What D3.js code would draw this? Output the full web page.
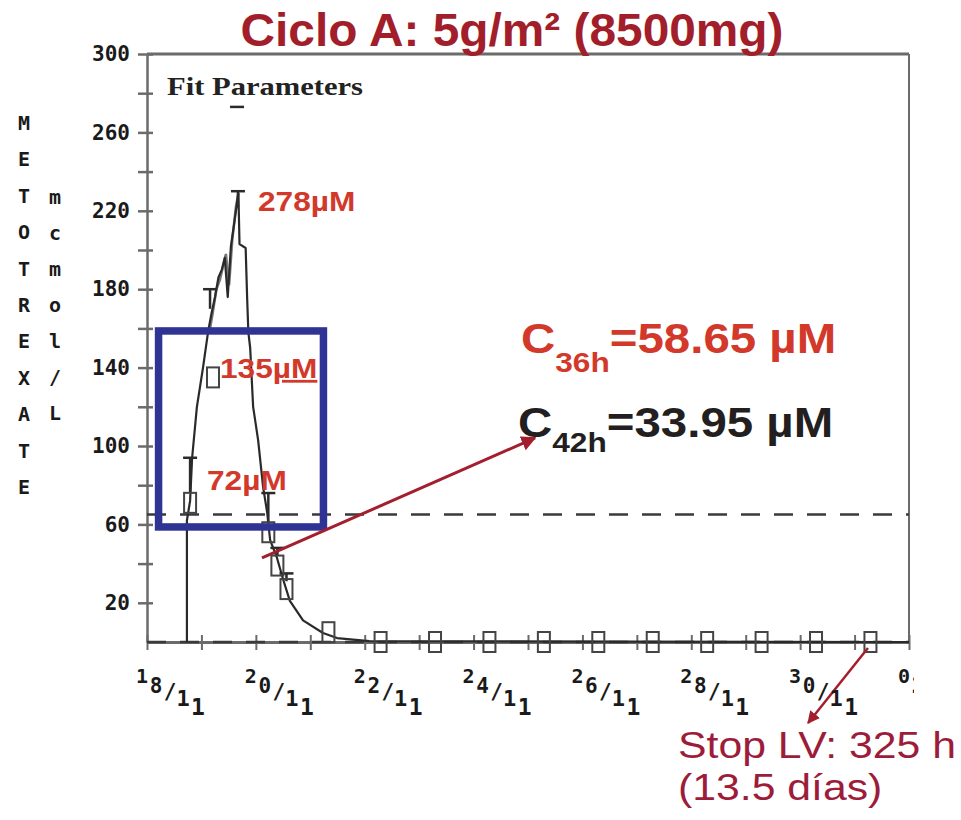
<!DOCTYPE html>
<html>
<head>
<meta charset="utf-8">
<script src="https://cdn.jsdelivr.net/npm/d3@7"></script>
<style>
body { margin: 0; background: #fff; }
svg { display: block; }
</style>
</head>
<body>
<div id="chart"></div>
<script>
// time = hours since 18/11 00:00, level = methotrexate in mcmol/L
const curveHours  = [17.6, 17.6, 19, 19.9, 22, 24.7, 26.9, 28.5, 30, 31.5, 33, 34.3, 35.6, 37, 38.5, 40.3, 40.8, 43.5, 44.2, 44.7, 45.5, 46.8, 49, 51.2, 53, 54.3, 57.3, 60, 63, 68.8, 77.6, 83.8, 98, 336]
const curveLevels = [0, 62, 72, 94, 120, 140, 158, 168, 176, 186, 190, 196, 176, 202, 214, 229, 203, 201, 174, 158, 150, 120, 103, 79, 66, 52, 43, 32, 21, 11, 4.6, 2, 0.4, 0]

// second (grey) trace on the rising limb
const traceHours  = [27.5, 29, 30.6, 32.2, 33.6, 34.8, 36.2, 37.6, 39.2, 40.3]
const traceLevels = [158, 168, 180, 185, 192, 198, 182, 205, 222, 229]

// measured samples (boxes)
const sampleHours  = [19, 29.1, 53.5, 57.5, 61.5, 80, 103, 127, 151, 175, 199, 223, 247, 271, 295, 319]
const sampleLevels = [71, 135, 56, 39, 27, 5, 0, 0, 0, 0, 0, 0, 0, 0, 0, 0]

// error bars
const errHours = [19, 27.8, 40.1, 53.5, 57.5, 61.5]
const errLow   = [76, 170, 222, 61, 44, 31]
const errHigh  = [94, 180, 230, 76, 48, 35]
const capHours  = [39.7]
const capLevels = [273]

const refLevels = [65, 0]

const dayTicks = d3.range(0, 337, 24)
const dayLabels = ['18/11', '20/11', '22/11', '24/11', '26/11', '28/11', '30/11', '02/12']
const yTicks = d3.range(20, 301, 20)
const yLabels = [20, 60, 100, 140, 180, 220, 260, 300]

const titleText = 'Ciclo A: 5g/m² (8500mg)'
const yTitle1 = 'METOTREXATE'
const yTitle2 = 'mcmol/L'
const fitText = 'Fit Parameters'

const margin = { top: 54, left: 147 }
const width = 762
const height = 588
const axisColor = '#6b6b6b'
const inkColor = '#2a2a2a'
const red = '#d2392b'
const darkRed = '#a41f2e'
const navy = '#2f3393'
const sx = 1.13 // slide text is a bit wide

const svg = d3.select('#chart')
    .append('svg')
    .attr('width', 961)
    .attr('height', 820)

svg.append('defs').append('clipPath').attr('id', 'lblclip')
    .append('rect').attr('x', 0).attr('y', 0).attr('width', 914).attr('height', 820)

const marker = svg.select('defs').append('marker')
    .attr('id', 'arrow')
    .attr('viewBox', '0 0 10 10')
    .attr('refX', 9).attr('refY', 5)
    .attr('markerWidth', 5).attr('markerHeight', 5)
    .attr('orient', 'auto')
marker.append('path').attr('d', 'M0,0L10,5L0,10z').attr('fill', darkRed)

const g = svg.append('g').attr('transform', `translate(${margin.left},${margin.top})`)

const x = d3.scaleLinear().domain([0, 336]).range([0, width])
const y = d3.scaleLinear().domain([0, 300]).range([height, 0])

//frame (top + right)
g.append('line').attr('x1', 0).attr('x2', width).attr('y1', 0).attr('y2', 0)
    .attr('stroke', axisColor).attr('stroke-width', 3)
g.append('line').attr('x1', width).attr('x2', width).attr('y1', 0).attr('y2', height)
    .attr('stroke', axisColor).attr('stroke-width', 2)

//y axis
const yAxis = g.append('g')
    .call(d3.axisLeft(y).tickValues(yTicks).tickSize(9).tickSizeOuter(0).tickPadding(8)
        .tickFormat(d => yLabels.includes(d) ? d : ''))
yAxis.select('.domain').attr('stroke', axisColor).attr('stroke-width', 2.5)
yAxis.selectAll('.tick line').attr('x1', 6).attr('stroke', axisColor).attr('stroke-width', 2.5)
yAxis.selectAll('.tick text')
    .attr('font-family', 'DejaVu Sans Mono').attr('font-weight', 'bold')
    .attr('font-size', 21).attr('fill', '#1a1a1a')

//x axis
const xAxis = g.append('g')
    .attr('transform', `translate(0,${height})`)
    .call(d3.axisBottom(x).tickValues(dayTicks).tickSize(8).tickSizeOuter(0).tickFormat(''))
xAxis.select('.domain').attr('stroke', axisColor).attr('stroke-width', 3)
xAxis.selectAll('.tick line').attr('y1', -7).attr('stroke', axisColor).attr('stroke-width', 2)

//staircase date labels (picture is cropped just right of the last tick)
const charDx = [-5, 9, 23, 36, 51]
const charDy = [34, 44, 50, 56, 65]
const charSize = [20, 21, 21, 22, 23]
const cropX = 914 - margin.left
const lbl = svg.append('g').attr('clip-path', 'url(#lblclip)')
    .append('g').attr('transform', `translate(${margin.left},${margin.top})`)
dayLabels.forEach((s, i) => {
    const t = lbl.append('text')
        .attr('font-family', 'DejaVu Sans Mono').attr('font-weight', 'bold')
        .attr('fill', '#1a1a1a').attr('text-anchor', 'middle')
    s.split('').forEach((c, k) => {
        const cx = x(dayTicks[i * 2]) + charDx[k]
        if (cx - 7 > cropX) return
        t.append('tspan')
            .attr('x', cx)
            .attr('y', height + charDy[k])
            .attr('dominant-baseline', 'central')
            .attr('font-size', charSize[k])
            .text(c)
    })
})

//reference lines
g.selectAll('.ref').data(refLevels).enter().append('line')
    .attr('x1', 0).attr('x2', width)
    .attr('y1', d => y(d)).attr('y2', d => y(d))
    .attr('stroke', '#3a3a3a').attr('stroke-width', 2.5)
    .attr('stroke-dasharray', '19,14')

//grey trace
const line = d3.line().x(d => x(d[0])).y(d => y(d[1]))
g.append('path')
    .datum(d3.zip(traceHours, traceLevels))
    .attr('fill', 'none').attr('stroke', '#777').attr('stroke-width', 2.5)
    .attr('d', line)

//main curve
g.append('path')
    .datum(d3.zip(curveHours, curveLevels))
    .attr('fill', 'none').attr('stroke', inkColor).attr('stroke-width', 2.2)
    .attr('stroke-linejoin', 'round')
    .attr('d', line)

//error bars
const errs = d3.zip(errHours, errLow, errHigh)
g.selectAll('.err').data(errs).enter().append('line')
    .attr('x1', d => x(d[0])).attr('x2', d => x(d[0]))
    .attr('y1', d => y(d[1])).attr('y2', d => y(d[2]))
    .attr('stroke', inkColor).attr('stroke-width', 2.5)
g.selectAll('.cap').data(errs.map(d => [d[0], d[2]]).concat(d3.zip(capHours, capLevels)))
    .enter().append('line')
    .attr('x1', d => x(d[0]) - 7).attr('x2', d => x(d[0]) + 7)
    .attr('y1', d => y(d[1])).attr('y2', d => y(d[1]))
    .attr('stroke', inkColor).attr('stroke-width', 2.5)

//samples
g.selectAll('.box').data(d3.zip(sampleHours, sampleLevels)).enter().append('rect')
    .attr('x', d => x(d[0]) - 6).attr('y', d => y(d[1]) - 10)
    .attr('width', 12).attr('height', 20)
    .attr('fill', 'none').attr('stroke', '#444').attr('stroke-width', 2)

//highlight box
g.append('rect')
    .attr('x', x(5.1)).attr('y', y(158.7))
    .attr('width', x(77.8) - x(5.1)).attr('height', y(58.7) - y(158.7))
    .attr('fill', 'none').attr('stroke', navy).attr('stroke-width', 7.5)

//arrows
g.append('line')
    .attr('x1', x(50.7)).attr('y1', y(42.9)).attr('x2', x(171.1)).attr('y2', y(104.1))
    .attr('stroke', darkRed).attr('stroke-width', 3)
    .attr('marker-end', 'url(#arrow)')
g.append('line')
    .attr('x1', x(317.9)).attr('y1', y(-3.1)).attr('x2', x(291.5)).attr('y2', y(-41.3))
    .attr('stroke', darkRed).attr('stroke-width', 2.5)
    .attr('marker-end', 'url(#arrow)')

//title
svg.append('text')
    .attr('transform', 'translate(512,46) scale(1.04,1)')
    .attr('text-anchor', 'middle')
    .attr('font-family', 'Liberation Sans, Arial, sans-serif')
    .attr('font-weight', 'bold').attr('font-size', 46)
    .attr('fill', '#a21e2a')
    .text(titleText)

//y titles
yTitle1.split('').forEach((c, i) => {
    svg.append('text').attr('x', 24).attr('y', 123 + i * 36.4)
        .attr('text-anchor', 'middle').attr('dominant-baseline', 'central')
        .attr('font-family', 'DejaVu Sans Mono').attr('font-weight', 'bold')
        .attr('font-size', 20).attr('fill', '#1a1a1a').text(c)
})
yTitle2.split('').forEach((c, i) => {
    svg.append('text').attr('x', 55).attr('y', 197 + i * 36)
        .attr('text-anchor', 'middle').attr('dominant-baseline', 'central')
        .attr('font-family', 'DejaVu Sans Mono').attr('font-weight', 'bold')
        .attr('font-size', 20).attr('fill', '#1a1a1a').text(c)
})

//old terminal style serif label
svg.append('text')
    .attr('x', 167).attr('y', 95)
    .attr('font-family', 'Liberation Serif, DejaVu Serif, serif').attr('font-weight', 'bold')
    .attr('font-size', 25).attr('fill', '#222')
    .attr('textLength', 196).attr('lengthAdjust', 'spacingAndGlyphs')
    .text(fitText)

//annotations
function note(px, py, size, color, k) {
    return svg.append('text')
        .attr('transform', `translate(${px},${py}) scale(${k || sx},1)`)
        .attr('font-family', 'Liberation Sans, Arial, sans-serif')
        .attr('font-weight', 'bold').attr('font-size', size)
        .attr('fill', color)
}
note(258, 211, 28, red).text('278µM')
const n135 = note(220, 378, 28, red)
n135.append('tspan').text('135')
n135.append('tspan').style('text-decoration', 'underline').text('µM')
note(207, 490, 28, red).text('72µM')

const c36 = note(521, 353, 42, red)
c36.append('tspan').text('C')
c36.append('tspan').attr('font-size', 28).attr('dy', 19).text('36h')
c36.append('tspan').attr('dy', -19).text('=58.65 µM')

const c42 = note(518, 437, 42, '#231f20')
c42.append('tspan').text('C')
c42.append('tspan').attr('font-size', 28).attr('dy', 15).text('42h')
c42.append('tspan').attr('dy', -15).text('=33.95 µM')

const stop = svg.append('g').attr('transform', 'translate(678,0) scale(1.155,1)')
stop.append('text').attr('x', 0).attr('y', 758)
    .attr('font-family', 'Liberation Sans, Arial, sans-serif')
    .attr('font-size', 37).attr('fill', '#9c1c3a')
    .text('Stop LV: 325 h')
stop.append('text').attr('x', 0).attr('y', 800)
    .attr('font-family', 'Liberation Sans, Arial, sans-serif')
    .attr('font-size', 37).attr('fill', '#9c1c3a')
    .text('(13.5 días)')
</script>
</body>
</html>
